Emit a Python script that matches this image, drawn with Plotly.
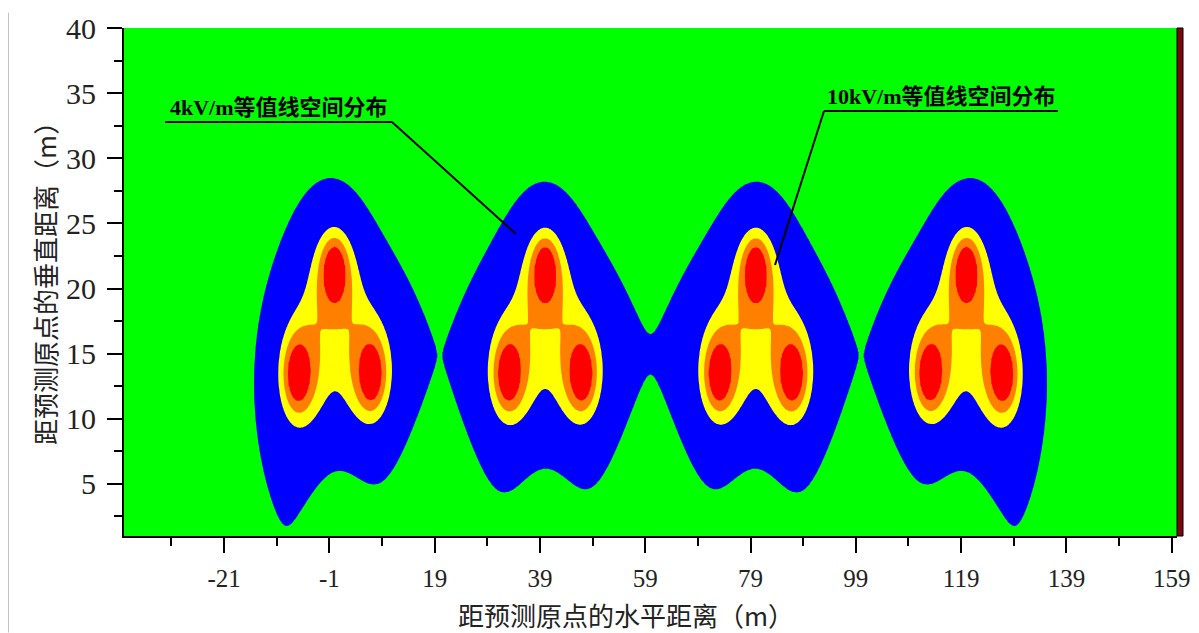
import numpy as np
import plotly.graph_objects as go

# ---------------- data ----------------
tower_centers = [0.0, 40.0, 80.0, 120.0]          # m, centre of each 3-phase circuit
phase_dx = [0.0, -7.0, 7.0]                        # top, lower-left, lower-right offset (m)
phase_y = [21.4, 13.4, 13.4]                       # conductor height (m)
phase_angle_deg = [0.0, -120.0, 120.0]             # phase A, B, C
phase_charge_scale = [1.0, 1.045, 1.045]           # lower conductors carry a little more charge
line_charge_kv = 45.1                              # q / (2*pi*eps0), kV
ground_y = 0.0                                     # ground plane height (m)

levels_kv = [4.0, 10.8, 15.2, 22.0]               # contour levels (kV/m)
band_colors = ["#00FF00", "#0000FF", "#FFFF00", "#FF8000", "#FF0000"]

x_ticks = [-21, -1, 19, 39, 59, 79, 99, 119, 139, 159]
x_minor = [-31, -11, 9, 29, 49, 69, 89, 109, 129, 149]
y_ticks = [5, 10, 15, 20, 25, 30, 35, 40]
y_minor = [2.5, 7.5, 12.5, 17.5, 22.5, 27.5, 32.5, 37.5]
x_range = [-40.0, 160.0]
y_range = [1.0, 40.0]

label_4kv = "4kV/m等值线空间分布"
label_10kv = "10kV/m等值线空间分布"
x_title = "距预测原点的水平距离（m）"
y_title = "距预测原点的垂直距离（m）"

# ---------------- field computation ----------------
xs = np.arange(x_range[0], x_range[1] + 1e-9, 0.25)
ys = np.arange(y_range[0], y_range[1] + 1e-9, 0.1)
X, Y = np.meshgrid(xs, ys)
Ex = np.zeros_like(X, dtype=complex)
Ey = np.zeros_like(X, dtype=complex)
near = np.zeros_like(X, dtype=bool)
for c in tower_centers:
    for dx0, y0, ang, sc in zip(phase_dx, phase_y, phase_angle_deg, phase_charge_scale):
        q = sc * line_charge_kv * np.exp(1j * np.deg2rad(ang))
        x0 = c + dx0
        dx = X - x0
        dy = Y - y0
        r2 = dx * dx + dy * dy + 1e-6
        near |= r2 < 0.5
        Ex += q * dx / r2
        Ey += q * dy / r2
        dyi = Y - (2 * ground_y - y0)
        r2i = dx * dx + dyi * dyi + 1e-6
        Ex -= q * dx / r2i
        Ey -= q * dyi / r2i
E = np.sqrt(np.abs(Ex) ** 2 + np.abs(Ey) ** 2)
E = np.where(near, levels_kv[-1] * 3, E)          # conductor surface: field saturates
Z = np.interp(E, [0.0] + levels_kv + [levels_kv[-1] * 3], [0, 1, 2, 3, 4, 5])

n = len(band_colors)
cscale = [[i / (n - 1), col] for i, col in enumerate(band_colors)]

fig = go.Figure()
fig.add_trace(go.Contour(
    x=xs, y=ys, z=np.round(Z, 3),
    autocontour=False,
    contours=dict(start=1, end=4, size=1, coloring="fill", showlines=False),
    line=dict(width=0),
    colorscale=cscale,
    showscale=False,
    hoverinfo="skip",
))

# ---------------- annotations (leaders) ----------------
ann_font = dict(family="Liberation Serif, Noto Sans CJK SC", size=22, color="black", weight="bold")
lead1 = dict(ux0=-32.2, ux1=10.9, uy=32.79, ex=34.4, ey=24.2)
lead2 = dict(ux0=92.95, ux1=137.4, uy=33.63, ex=83.65, ey=21.81)

shapes = []
for ld, side in ((lead1, "right"), (lead2, "left")):
    shapes.append(dict(type="line", xref="x", yref="y", x0=ld["ux0"], x1=ld["ux1"],
                       y0=ld["uy"], y1=ld["uy"], line=dict(color="black", width=2)))
    sx = ld["ux1"] if side == "right" else ld["ux0"]
    shapes.append(dict(type="line", xref="x", yref="y", x0=sx, y0=ld["uy"],
                       x1=ld["ex"], y1=ld["ey"], line=dict(color="black", width=2)))
# dark strip at right border
shapes.append(dict(type="rect", xref="paper", yref="paper", x0=1.0, x1=1.0057, y0=0, y1=1,
                   fillcolor="#7A0808", line=dict(color="black", width=1)))
# faint page frame on the left
shapes.append(dict(type="line", xref="paper", yref="paper", x0=-0.1098, x1=-0.1098, y0=-0.19, y1=1.03,
                   line=dict(color="#BBBBBB", width=1)))

annotations = [
    dict(x=lead1["ux0"] + 0.5, y=lead1["uy"], xref="x", yref="y", text=label_4kv, showarrow=False,
         xanchor="left", yanchor="bottom", font=ann_font),
    dict(x=lead2["ux0"] + 0.2, y=lead2["uy"], xref="x", yref="y", text=label_10kv, showarrow=False,
         xanchor="left", yanchor="bottom", font=ann_font),
    dict(x=0.477, y=-0.114, xref="paper", yref="paper", text=x_title, showarrow=False,
         xanchor="center", yanchor="top", font=dict(family="Noto Sans CJK SC", size=26, color="#222")),
    dict(x=-0.075, y=0.51, xref="paper", yref="paper", text=y_title, showarrow=False, textangle=-90,
         xanchor="center", yanchor="middle", font=dict(family="Noto Sans CJK SC", size=26, color="#222")),
]

# the page body has an 8 px margin: figure is sized so that the plot area lands on the reference
fig.update_layout(
    width=1191, height=625,
    margin=dict(l=116, r=22, t=20, b=97, autoexpand=False),
    paper_bgcolor="white", plot_bgcolor="#00FF00",
    shapes=shapes, annotations=annotations,
    showlegend=False,
    xaxis=dict(range=x_range, tickvals=x_ticks, ticktext=[str(v) for v in x_ticks],
               ticks="outside", ticklen=15, tickwidth=2, tickcolor="black",
               minor=dict(tickvals=x_minor, ticks="outside", ticklen=8, tickwidth=2, tickcolor="black"),
               showline=True, linecolor="black", linewidth=2, mirror=False, automargin=False,
               showgrid=False, zeroline=False, ticklabelstandoff=4,
               tickfont=dict(family="Liberation Serif", size=25, color="#222")),
    yaxis=dict(range=y_range, tickvals=y_ticks, ticktext=[str(v) for v in y_ticks],
               ticks="outside", ticklen=15, tickwidth=2, tickcolor="black",
               minor=dict(tickvals=y_minor, ticks="outside", ticklen=8, tickwidth=2, tickcolor="black"),
               showline=True, linecolor="black", linewidth=2, mirror=False, automargin=False,
               showgrid=False, zeroline=False, ticklabelstandoff=5,
               tickfont=dict(family="Liberation Serif", size=30, color="#222")),
)

fig.write_html("out.html")
